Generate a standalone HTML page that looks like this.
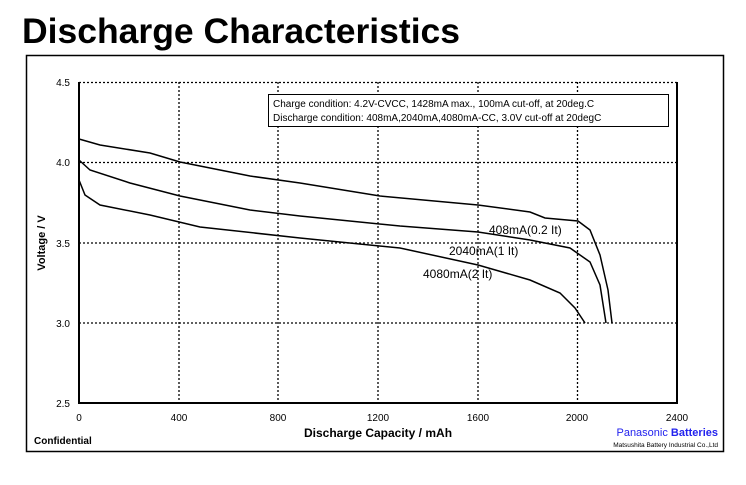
<!DOCTYPE html><html><head><style>body{margin:0;background:#fff;width:746px;height:480px;overflow:hidden}</style></head><body>
<svg width="746" height="480" xmlns="http://www.w3.org/2000/svg" font-family="Liberation Sans, sans-serif">
<text x="22" y="43" font-size="35.5" font-weight="bold">Discharge Characteristics</text>
<rect x="26.5" y="55.5" width="697" height="396" fill="none" stroke="#000" stroke-width="1.5"/>
<g stroke="#000" stroke-width="1.3" stroke-dasharray="2,2">
<line x1="79" y1="82.5" x2="677" y2="82.5"/><line x1="79" y1="162.5" x2="677" y2="162.5"/><line x1="79" y1="243" x2="677" y2="243"/><line x1="79" y1="323" x2="677" y2="323"/>
<line x1="179" y1="82" x2="179" y2="403"/><line x1="278" y1="82" x2="278" y2="403"/><line x1="378" y1="82" x2="378" y2="403"/><line x1="478" y1="82" x2="478" y2="403"/><line x1="577.5" y1="82" x2="577.5" y2="403"/>
</g>
<polyline points="79,82 79,403 677,403 677,82" fill="none" stroke="#000" stroke-width="2"/>
<g font-size="10" text-anchor="end"><text x="70" y="86">4.5</text><text x="70" y="166">4.0</text><text x="70" y="247">3.5</text><text x="70" y="327">3.0</text><text x="70" y="407">2.5</text></g>
<g font-size="10" text-anchor="middle"><text x="79" y="421">0</text><text x="179" y="421">400</text><text x="278" y="421">800</text><text x="378" y="421">1200</text><text x="478" y="421">1600</text><text x="577" y="421">2000</text><text x="677" y="421">2400</text></g>
<text x="378" y="437" font-size="12" font-weight="bold" text-anchor="middle">Discharge Capacity / mAh</text>
<text transform="translate(45,243) rotate(-90)" font-size="11" font-weight="bold" text-anchor="middle">Voltage / V</text>
<text x="34" y="444" font-size="10" font-weight="bold">Confidential</text>
<text x="718" y="436" font-size="11" fill="#2222ee" text-anchor="end">Panasonic <tspan font-weight="bold">Batteries</tspan></text>
<text x="718" y="447" font-size="6.5" text-anchor="end">Matsushita Battery Industrial Co.,Ltd</text>
<rect x="268.5" y="94.5" width="400" height="32" fill="#fff" stroke="#000"/>
<text x="273" y="107" font-size="10">Charge condition: 4.2V-CVCC, 1428mA max., 100mA cut-off, at 20deg.C</text>
<text x="273" y="121" font-size="10">Discharge condition: 408mA,2040mA,4080mA-CC, 3.0V cut-off at 20degC</text>
<g fill="none" stroke="#000" stroke-width="1.5">
<polyline points="79,139 100,145 150,153 180,162 250,176 300,183 380,196 478,205 530,212 545,218 578,221 590,230 600,255 608,290 612,323"/>
<polyline points="79,160 90,170 130,183 180,196 250,210 300,216 400,226 478,232 530,240 570,248 590,262 600,285 606,323"/>
<polyline points="79,180 85,195 100,205 150,215 200,227 300,238 400,248 478,265 530,280 560,293 575,308 585,323"/>
</g>
<g font-size="12"><text x="489" y="234">408mA(0.2 It)</text><text x="449" y="255">2040mA(1 It)</text><text x="423" y="278">4080mA(2 It)</text></g>
</svg></body></html>
